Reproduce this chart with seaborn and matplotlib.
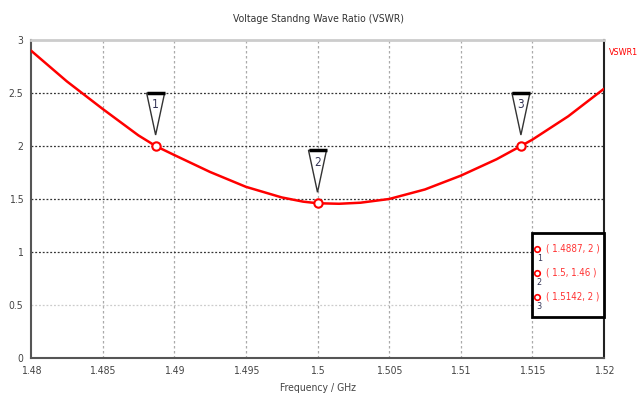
import matplotlib
matplotlib.use("Agg")
import matplotlib.pyplot as plt
import matplotlib.transforms as mtransforms
from matplotlib.patches import Polygon, Rectangle
import seaborn as sns
import pandas as pd

# ---- data ----
freq = [1.48, 1.4825, 1.485, 1.4875, 1.4887, 1.49, 1.4925, 1.495, 1.4975, 1.499,
        1.5, 1.5015, 1.503, 1.505, 1.5075, 1.51, 1.5125, 1.5142, 1.515, 1.5175, 1.52]
vswr = [2.90, 2.61, 2.35, 2.10, 2.00, 1.915, 1.755, 1.615, 1.515, 1.475,
        1.46, 1.455, 1.465, 1.50, 1.59, 1.72, 1.875, 2.00, 2.06, 2.28, 2.54]
marker_freq = [1.4887, 1.5, 1.5142]
marker_vswr = [2.0, 1.46, 2.0]
marker_ids = ["1", "2", "3"]
marker_labels = ["( 1.4887, 2 )", "( 1.5, 1.46 )", "( 1.5142, 2 )"]
x_ticks = [1.48, 1.485, 1.49, 1.495, 1.5, 1.505, 1.51, 1.515, 1.52]
x_tick_labels = ["1.48", "1.485", "1.49", "1.495", "1.5", "1.505", "1.51", "1.515", "1.52"]
y_ticks = [0, 0.5, 1, 1.5, 2, 2.5, 3]
y_tick_labels = ["0", "0.5", "1", "1.5", "2", "2.5", "3"]

sns.set_theme(style="white")
plt.rcParams["font.family"] = ["DejaVu Sans"]
plt.rcParams["font.stretch"] = "condensed"

fig = plt.figure(figsize=(6.41, 4.12), dpi=100)
ax = fig.add_axes([31 / 641, 54 / 412, 573 / 641, 318 / 412])

df = pd.DataFrame({"Frequency": freq, "VSWR": vswr})
sns.lineplot(data=df, x="Frequency", y="VSWR", ax=ax, color="#ff0000", lw=1.8, zorder=4)

ax.set_xlim(1.48, 1.52)
ax.set_ylim(0, 3)
ax.set_xticks(x_ticks)
ax.set_xticklabels(x_tick_labels)
ax.set_yticks(y_ticks)
ax.set_yticklabels(y_tick_labels)
ax.tick_params(axis="both", labelsize=7.5, colors="#444444", direction="inout", length=5, width=1, pad=3)

# grid
for xv in x_ticks[1:-1]:
    ax.axvline(xv, color="#aaaaaa", lw=0.9, ls=(0, (2, 2)), zorder=1)
for yv in y_ticks[1:-1]:
    c = "#cccccc" if yv == 0.5 else "#333333"
    ax.axhline(yv, color=c, lw=0.9, ls=(0, (1.5, 1.5)), zorder=1)

# spines
for s in ["left", "bottom"]:
    ax.spines[s].set_color("#555555")
    ax.spines[s].set_linewidth(1.5)
ax.spines["top"].set_color("#cccccc")
ax.spines["top"].set_linewidth(2)
ax.spines["right"].set_color("#222222")
ax.spines["right"].set_linewidth(1.5)

ax.set_xlabel("Frequency / GHz", fontsize=7.5, color="#444444", labelpad=5)
ax.set_ylabel("")
fig.text(0.497, 0.955, "Voltage Standng Wave Ratio (VSWR)", ha="center", va="center",
         fontsize=7.5, color="#333333")
ax.text(1.008, 0.962, "VSWR1", transform=ax.transAxes, ha="left", va="center",
        fontsize=6.5, color="#ff0000")

# marker circles
ax.plot(marker_freq, marker_vswr, ls="none", marker="o", ms=6, mfc="white",
        mec="#ff0000", mew=1.5, zorder=6)

# triangle flags (offsets in inches from the marker point)
px = 1 / 100
for fx, fy, mid in zip(marker_freq, marker_vswr, marker_ids):
    off = fig.dpi_scale_trans + mtransforms.ScaledTranslation(fx, fy, ax.transData)
    tri = Polygon([(-9 * px, 53 * px), (9 * px, 53 * px), (0, 11 * px)], closed=True,
                  facecolor="white", edgecolor="#333333", lw=1.0, transform=off, zorder=7)
    ax.add_patch(tri)
    ax.plot([-9 * px, 9 * px], [53 * px, 53 * px], color="black", lw=2.5,
            transform=off, zorder=8, solid_capstyle="butt")
    ax.text(0, 41 * px, mid, transform=off, ha="center", va="center", fontsize=8.5,
            color="#333355", zorder=9)

# marker legend box
box = Rectangle((0.874, 0.129), 0.126, 0.264, transform=ax.transAxes, facecolor="white",
                edgecolor="black", lw=2, zorder=10, clip_on=False)
ax.add_patch(box)
for i, (mid, lab) in enumerate(zip(marker_ids, marker_labels)):
    yy = 0.343 - i * 0.075
    ax.plot([0.883], [yy], transform=ax.transAxes, marker="o", ms=4, mfc="white",
            mec="#ff0000", mew=1.2, ls="none", zorder=11, clip_on=False)
    ax.text(0.887, yy - 0.03, mid, transform=ax.transAxes, ha="center", va="center",
            fontsize=6.5, color="#333355", zorder=11)
    ax.text(0.898, yy, lab, transform=ax.transAxes, ha="left", va="center",
            fontsize=7, color="#ff3333", zorder=11)

fig.savefig("out.png", dpi=100)
